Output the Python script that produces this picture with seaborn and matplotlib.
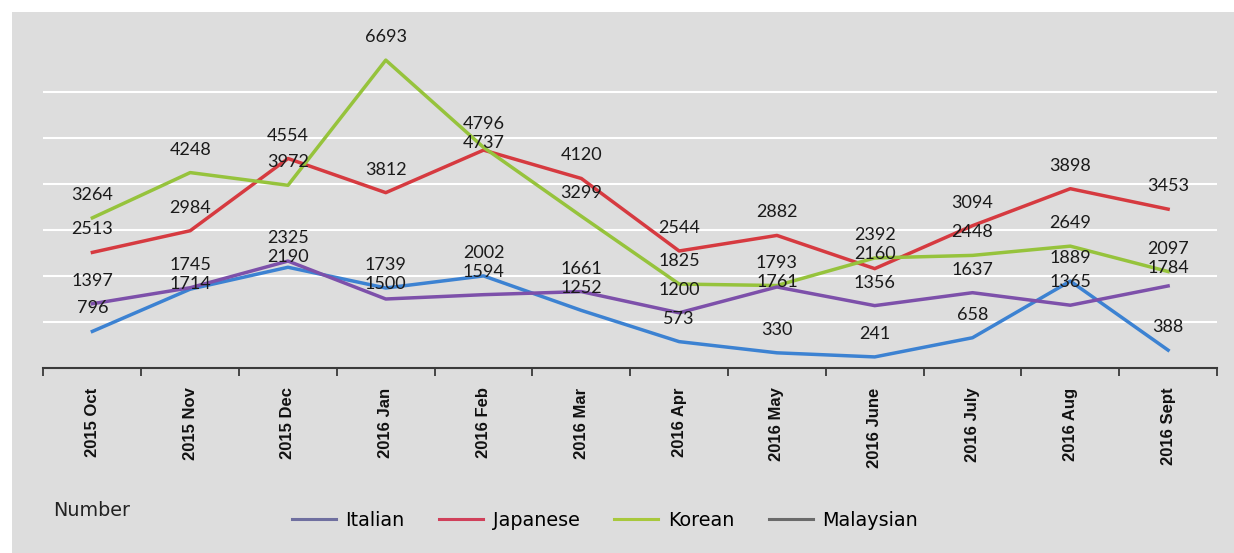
import numpy as np
import pandas as pd
import matplotlib
matplotlib.use("Agg")
import matplotlib.pyplot as plt
import seaborn as sns
from matplotlib.lines import Line2D
from matplotlib.patches import Rectangle

# ---------------- data ----------------
months = ["2015 Oct", "2015 Nov", "2015 Dec", "2016 Jan", "2016 Feb", "2016 Mar",
          "2016 Apr", "2016 May", "2016 June", "2016 July", "2016 Aug", "2016 Sept"]
series_names = ["Italian", "Japanese", "Korean", "Malaysian"]
italian = [796, 1714, 2190, 1739, 2002, 1252, 573, 330, 241, 658, 1889, 388]
japanese = [2513, 2984, 4554, 3812, 4737, 4120, 2544, 2882, 2160, 3094, 3898, 3453]
korean = [3264, 4248, 3972, 6693, 4796, 3299, 1825, 1793, 2392, 2448, 2649, 2097]
malaysian = [1397, 1745, 2325, 1500, 1594, 1661, 1200, 1761, 1356, 1637, 1365, 1784]

line_colors = {"Italian": "#3c82d2", "Japanese": "#d63a40",
               "Korean": "#96c33c", "Malaysian": "#7d50aa"}
legend_colors = {"Italian": "#6f6f9f", "Japanese": "#d0405a",
                 "Korean": "#a8c83c", "Malaysian": "#6a6a6a"}

values = {"Italian": italian, "Japanese": japanese,
          "Korean": korean, "Malaysian": malaysian}
df = pd.DataFrame([
    {"pos": i, "month": m, "series": s, "value": values[s][i]}
    for s in series_names for i, m in enumerate(months)
])

# ---------------- figure ----------------
W, H = 1234, 553
fig = plt.figure(figsize=(W / 100, H / 100), dpi=100)
fig.patch.set_facecolor("white")
fig.patches.append(Rectangle((12 / W, 0), 1 - 12 / W, 1 - 12 / H,
                             transform=fig.transFigure, facecolor="#dddddd",
                             edgecolor="none", zorder=-10))

ax = fig.add_axes([43.5 / W, 1 - 368 / H, (1217 - 43.5) / W, (368 - 46) / H])
ax.set_facecolor("none")

sns.lineplot(data=df, x="pos", y="value", hue="series", hue_order=series_names,
             palette=line_colors, linewidth=2.5, legend=False, sort=False, ax=ax)

ax.set_xlim(-0.5, len(months) - 0.5)
ax.set_ylim(0, 7000)
ax.set_yticks(np.arange(0, 7000, 1000))
ax.yaxis.grid(True, color="white", linewidth=1.5)
ax.xaxis.grid(False)
ax.set_axisbelow(True)
ax.tick_params(axis="y", left=False, labelleft=False)
ax.set_xlabel("")
ax.set_ylabel("")
for sp in ["top", "right", "left"]:
    ax.spines[sp].set_visible(False)
ax.spines["bottom"].set_color("#3a3a3a")
ax.spines["bottom"].set_linewidth(1.5)

ax.set_xticks(range(len(months)))
ax.set_xticklabels(months, rotation=90, ha="center", va="top",
                   fontfamily="Liberation Sans", fontweight="bold", fontsize=12,
                   color="#111111")
ax.set_xticks(np.arange(-0.5, len(months), 1.0), minor=True)
ax.tick_params(axis="x", which="major", length=0, pad=14)
ax.tick_params(axis="x", which="minor", length=5.5, width=1.3,
               direction="out", color="#3a3a3a")

# ---------------- data labels (stacked above points) ----------------
offset_px = 23
min_gap = 19
for i in range(len(months)):
    pts = sorted([(values[s][i], s) for s in series_names], reverse=True)
    prev_y = None
    for v, s in pts:
        py = ax.transData.transform((i, v))[1]
        ly = py + offset_px
        if prev_y is not None and ly > prev_y - min_gap:
            ly = prev_y - min_gap
        prev_y = ly
        ax.annotate(str(v), xy=(i, v), xytext=(0, ly - py),
                    textcoords="offset pixels", ha="center", va="center",
                    fontfamily="Lato", fontsize=13, color="#1a1a1a",
                    annotation_clip=False)

# ---------------- legend & note ----------------
handles = [Line2D([0], [0], color=legend_colors[s], lw=2.2) for s in series_names]
fig.legend(handles, series_names, loc="center", bbox_to_anchor=(605 / W, 1 - 520 / H),
           ncol=4, frameon=False, handlelength=2.3, handletextpad=0.5,
           columnspacing=1.8, prop={"family": "DejaVu Sans", "size": 13.8})
fig.text(53 / W, 1 - 510 / H, "Number", fontsize=13.8, fontfamily="DejaVu Sans",
         ha="left", va="center", color="#222222")

fig.savefig("out.png", dpi=100)
